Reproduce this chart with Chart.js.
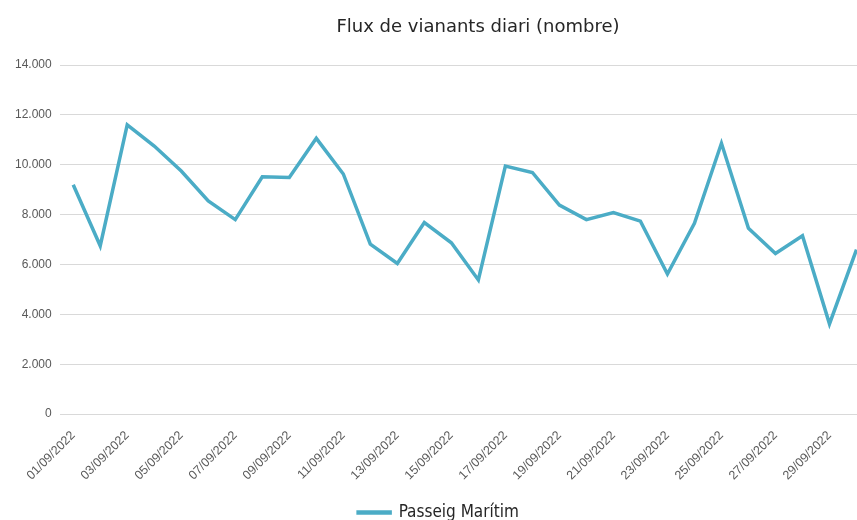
<!DOCTYPE html>
<html>
<head>
<meta charset="utf-8">
<script src="https://cdn.jsdelivr.net/npm/chart.js@4"></script>
<style>
  html, body { margin: 0; padding: 0; background: #fff; overflow: hidden; }
  .box { width: 880px; height: 531px; }
</style>
</head>
<body>
<div class="box"><canvas id="canvas"></canvas></div>
<script>
// dies del mes (setembre 2022)
const dies = ['01/09/2022', '02/09/2022', '03/09/2022', '04/09/2022', '05/09/2022',
  '06/09/2022', '07/09/2022', '08/09/2022', '09/09/2022', '10/09/2022',
  '11/09/2022', '12/09/2022', '13/09/2022', '14/09/2022', '15/09/2022',
  '16/09/2022', '17/09/2022', '18/09/2022', '19/09/2022', '20/09/2022',
  '21/09/2022', '22/09/2022', '23/09/2022', '24/09/2022', '25/09/2022',
  '26/09/2022', '27/09/2022', '28/09/2022', '29/09/2022', '30/09/2022'];

// vianants per dia
const passeigMaritim = [9200, 6750, 11600, 10750, 9750, 8550, 7800, 9520, 9490, 11060,
  9630, 6820, 6040, 7680, 6870, 5380, 9950, 9690, 8380, 7800,
  8080, 7740, 5620, 7650, 10860, 7450, 6440, 7150, 3620, 6600];

const yMax = 14000;
const yStep = 2000;
const titol = 'Flux de vianants diari (nombre)';

// titol una mica desplacat a la dreta, com l'original
const titlePlugin = {
  id: 'titol',
  afterDraw(chart) {
    const c = chart.ctx;
    c.save();
    c.font = '18px "DejaVu Sans"';
    c.fillStyle = '#262626';
    c.textAlign = 'center';
    c.textBaseline = 'middle';
    c.fillText(titol, 478, 27);
    c.restore();
  }
};

const ctx = document.getElementById('canvas');
new Chart(ctx, {
  type: 'line',
  data: {
    labels: dies,
    datasets: [{
      label: 'Passeig Marítim',
      data: passeigMaritim,
      borderColor: '#4BACC6',
      backgroundColor: '#4BACC6',
      borderWidth: 3.5,
      pointRadius: 0,
      tension: 0
    }]
  },
  options: {
    responsive: true,
    maintainAspectRatio: false,
    animation: false,
    layout: { padding: { left: 7, right: 10, top: 65, bottom: 0 } },
    plugins: {
      title: { display: false },
      legend: {
        position: 'bottom',
        labels: {
          boxWidth: 32,
          boxHeight: 1,
          color: '#262626',
          font: { family: 'DejaVu Sans Condensed', size: 17 },
          padding: 15
        }
      },
      tooltip: { enabled: false }
    },
    scales: {
      x: {
        offset: true,
        grid: { display: false },
        border: { display: false },
        ticks: {
          autoSkip: false,
          minRotation: 45,
          maxRotation: 45,
          padding: 6,
          color: '#595959',
          font: { family: 'Liberation Sans', size: 12.5 },
          callback: function(val, i) { return i % 2 === 0 ? dies[i] : ''; }
        }
      },
      y: {
        min: 0,
        max: yMax,
        grid: { color: '#D9D9D9', lineWidth: 1, drawTicks: false },
        border: { display: false },
        ticks: {
          stepSize: yStep,
          padding: 8,
          color: '#595959',
          font: { family: 'Liberation Sans', size: 12 },
          callback: function(v) { return v.toLocaleString('de-DE'); }
        }
      }
    }
  },
  plugins: [titlePlugin]
});
</script>
</body>
</html>
